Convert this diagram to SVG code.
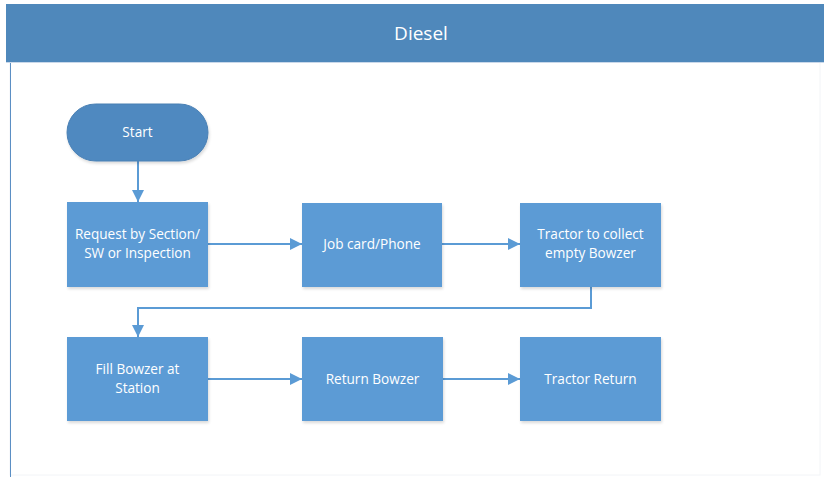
<svg xmlns="http://www.w3.org/2000/svg" width="824" height="477" viewBox="0 0 824 477">
  <defs>
    <style>
      .box { fill: #5b9bd5; filter: url(#shadow); }
      .term { fill: #4f89c0; stroke: #4a80b4; stroke-width: 1; filter: url(#shadow); }
      .label { font-family: "Open Sans", "Noto Sans", "Liberation Sans", sans-serif; font-size: 13.6px; fill: #ffffff; text-anchor: middle; }
      .title { font-family: "Open Sans", "Noto Sans", "Liberation Sans", sans-serif; font-size: 19px; fill: #ffffff; text-anchor: middle; }
      .edge { fill: none; stroke: #5b9bd5; stroke-width: 2; }
    </style>
    <marker id="arrow" viewBox="0 0 12 12" refX="12" refY="6" markerWidth="12" markerHeight="12" markerUnits="userSpaceOnUse" orient="auto">
      <path d="M0,0 L12,6 L0,12 Z" fill="#5b9bd5"/>
    </marker>
    <filter id="shadow" x="-10%" y="-10%" width="125%" height="125%">
      <feGaussianBlur in="SourceAlpha" stdDeviation="1.5"/>
      <feOffset dx="1" dy="2" result="b"/>
      <feComponentTransfer><feFuncA type="linear" slope="0.15"/></feComponentTransfer>
      <feMerge><feMergeNode/><feMergeNode in="SourceGraphic"/></feMerge>
    </filter>
  </defs>

  <rect width="824" height="477" fill="#ffffff"/>

  <!-- pool frame and header -->
  <g id="pool">
    <rect x="10" y="62" width="810" height="413" fill="none" stroke="#f2f4f7" stroke-width="1"/>
    <line x1="10.5" y1="62" x2="10.5" y2="477" stroke="#5b8fc4" stroke-width="1"/>
    <rect x="6" y="4" width="818" height="58" fill="#4f88bb"/>
    <line x1="6" y1="62.5" x2="824" y2="62.5" stroke="#c9d8ea" stroke-width="1"/>
    <text class="title" x="421" y="40">Diesel</text>
  </g>

  <!-- connectors -->
  <g id="connectors">
    <path class="edge" d="M138,161 V202" marker-end="url(#arrow)"/>
    <path class="edge" d="M208,244 H302" marker-end="url(#arrow)"/>
    <path class="edge" d="M442,244 H520" marker-end="url(#arrow)"/>
    <path class="edge" d="M591,287 V308 H138 V337" marker-end="url(#arrow)"/>
    <path class="edge" d="M208,379 H302" marker-end="url(#arrow)"/>
    <path class="edge" d="M443,379 H520" marker-end="url(#arrow)"/>
  </g>

  <g id="start">
    <rect class="term" x="67" y="104" width="141" height="57" rx="28.5" ry="28.5"/>
    <text class="label" x="137.5" y="137">Start</text>
  </g>

  <g id="request">
    <rect class="box" x="67" y="202" width="141" height="85"/>
    <text class="label" x="137.5" y="239">Request by Section/</text>
    <text class="label" x="137.5" y="258">SW or Inspection</text>
  </g>

  <g id="jobcard">
    <rect class="box" x="302" y="203" width="140" height="84"/>
    <text class="label" x="372" y="249">Job card/Phone</text>
  </g>

  <g id="collect">
    <rect class="box" x="520" y="203" width="141" height="84"/>
    <text class="label" x="590.5" y="239">Tractor to collect</text>
    <text class="label" x="590.5" y="258">empty Bowzer</text>
  </g>

  <g id="fill">
    <rect class="box" x="67" y="337" width="141" height="84"/>
    <text class="label" x="137.5" y="374">Fill Bowzer at</text>
    <text class="label" x="137.5" y="393">Station</text>
  </g>

  <g id="return-bowzer">
    <rect class="box" x="302" y="337" width="141" height="84"/>
    <text class="label" x="372.5" y="384">Return Bowzer</text>
  </g>

  <g id="tractor-return">
    <rect class="box" x="520" y="337" width="141" height="84"/>
    <text class="label" x="590.5" y="384">Tractor Return</text>
  </g>
</svg>
